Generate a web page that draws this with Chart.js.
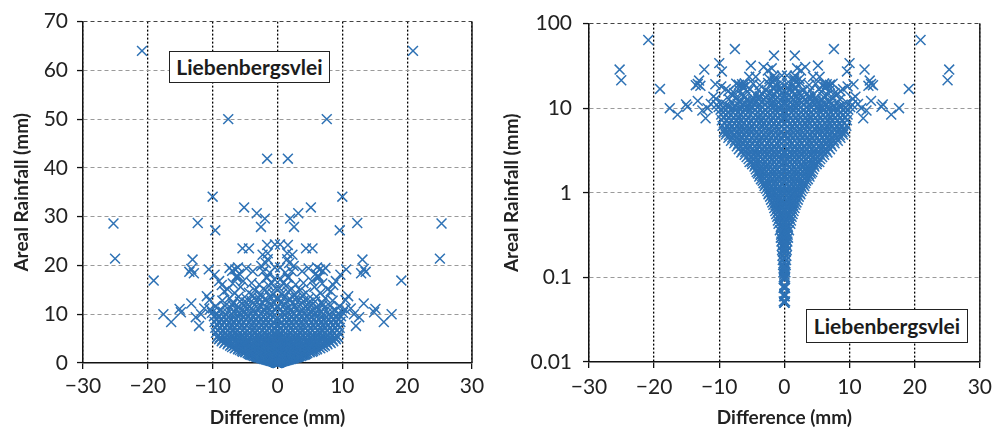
<!DOCTYPE html>
<html>
<head>
<meta charset="utf-8">
<title>Liebenbergsvlei - difference vs areal rainfall</title>
<script src="https://cdn.jsdelivr.net/npm/chart.js@4.4.1/dist/chart.umd.min.js"></script>
<style>
  body { margin: 0; background: #fff; }
  #wrap { position: relative; width: 999px; height: 432px; }
  canvas { position: absolute; top: 0; }
  #linChart { left: 0; }
  #logChart { left: 500px; }
  .tag {
    position: absolute; box-sizing: border-box; border: 1.5px solid #222; background: #fff;
    font-family: Lato, "Open Sans", sans-serif; font-weight: bold; font-size: 21px; color: #1c1c1c;
    text-align: center;
  }
  #tagLeft { left: 169px; top: 51px; width: 161px; height: 32px; line-height: 29px; }
  #tagRight { left: 806px; top: 309px; width: 162px; height: 34px; line-height: 31px; }
</style>
</head>
<body>
<div id="wrap">
  <canvas id="linChart" width="500" height="432"></canvas>
  <canvas id="logChart" width="499" height="432"></canvas>
  <div class="tag" id="tagLeft">Liebenbergsvlei</div>
  <div class="tag" id="tagRight">Liebenbergsvlei</div>
</div>
<script>
const xTicks = [-30, -20, -10, 0, 10, 20, 30];
const linTicks = [0, 10, 20, 30, 40, 50, 60, 70];
const logTicks = [0.01, 0.1, 1, 10, 100];

// Both panels are mirror images about 0 (each pair appears as +d and -d).
const stemPts = [
  [0,0.05],[0.1,0.052],[0.05,0.06],[0,0.064],[0.1,0.075],[0,0.08],[0.05,0.095],[0.1,0.1],
  [0,0.108],[0.15,0.115],[0.05,0.125],[0.1,0.13],[0.2,0.14],[0,0.15],[0.25,0.16],[0.1,0.17],
  [0.3,0.18],[0.05,0.19],[0.2,0.2],[0.35,0.21],[0.1,0.22],[0.4,0.235],[0.25,0.245],[0,0.255],
  [0.45,0.265],[0.3,0.275],[0.15,0.285],[0.55,0.295]
];
const lowPts = [
  [0,0.31],[0.5,0.32],[0.25,0.35],[0.7,0.36],[0.1,0.38],[0.55,0.39],[0.35,0.42],[0.9,0.43],
  [0,0.45],[0.5,0.46],[1.0,0.47],[0.2,0.49],[0.8,0.5],[1.1,0.52],[0.1,0.54],[0.6,0.55],
  [1.25,0.56],[0.4,0.58],[0.95,0.6],[1.4,0.61],[0,0.63],[0.55,0.64],[1.1,0.65],[1.55,0.66],
  [0.3,0.68],[0.85,0.7],[1.35,0.71],[1.7,0.72],[0.1,0.74],[0.65,0.75],[1.2,0.76],[1.85,0.77],
  [0.45,0.8],[0.95,0.81],[1.5,0.82],[2.05,0.83],[0,0.86],[0.6,0.87],[1.15,0.88],[1.7,0.89],
  [2.2,0.9],[0.3,0.92],[0.85,0.93],[1.4,0.94],[1.95,0.95],[2.45,0.96],[0.1,0.98],[0.7,0.99],
  [1.25,0.99],[1.8,1.0],[2.35,1.0]
];
const midPts = [
  [0.2,1.04],[0.85,1.05],[1.45,1.04],[2.0,1.06],[2.6,1.05],
  [0.5,1.11],[1.1,1.12],[1.7,1.1],[2.3,1.13],[2.8,1.12],
  [0,1.19],[0.7,1.18],[1.35,1.2],[2.0,1.19],[2.55,1.21],[3.05,1.2],
  [0.4,1.27],[1.0,1.28],[1.65,1.26],[2.3,1.29],[2.9,1.27],[3.2,1.3],
  [0.1,1.36],[0.8,1.37],[1.45,1.35],[2.1,1.38],[2.7,1.36],[3.35,1.39],
  [0.5,1.45],[1.15,1.47],[1.8,1.44],[2.4,1.46],[3.0,1.48],[3.6,1.45],
  [0.2,1.55],[0.9,1.56],[1.55,1.54],[2.2,1.57],[2.8,1.55],[3.4,1.58],[3.85,1.56],
  [0.6,1.66],[1.25,1.65],[1.9,1.68],[2.5,1.66],[3.15,1.67],[3.75,1.65],[4.05,1.69],
  [0,1.77],[0.7,1.78],[1.4,1.76],[2.05,1.79],[2.7,1.77],[3.3,1.8],[3.9,1.78],[4.25,1.76],
  [0.4,1.89],[1.1,1.9],[1.75,1.88],[2.4,1.91],[3.05,1.89],[3.7,1.92],[4.4,1.9],
  [0.1,2.02],[0.8,2.03],[1.5,2.0],[2.15,2.04],[2.8,2.02],[3.5,2.05],[4.1,2.01],[4.6,2.04],
  [0.5,2.16],[1.2,2.17],[1.9,2.15],[2.6,2.18],[3.25,2.16],[3.9,2.19],[4.5,2.15],[4.95,2.18],
  [0.2,2.31],[0.9,2.32],[1.6,2.3],[2.3,2.33],[3.0,2.31],[3.7,2.34],[4.35,2.3],[5.0,2.33],[5.35,2.31],
  [0.6,2.47],[1.3,2.48],[2.0,2.46],[2.7,2.5],[3.4,2.47],[4.1,2.49],[4.8,2.46],[5.5,2.5],
  [0,2.64],[0.75,2.65],[1.45,2.63],[2.2,2.66],[2.9,2.64],[3.6,2.67],[4.3,2.63],[5.0,2.66],[5.8,2.64],
  [0.4,2.81],[1.1,2.83],[1.8,2.8],[2.5,2.84],[3.3,2.82],[4.0,2.85],[4.7,2.81],[5.4,2.84],[6.1,2.82]
];
const corePts = [
  [0.2,3.02],[0.9,3.05],[1.7,3.0],[2.4,3.07],[3.1,3.03],[3.9,3.06],[4.6,3.01],[5.3,3.08],[6.0,3.04],[6.6,3.0],
  [0.6,3.27],[1.3,3.24],[2.0,3.3],[2.8,3.26],[3.5,3.22],[4.2,3.29],[5.0,3.25],[5.7,3.31],[6.4,3.23],[7.0,3.28],
  [0,3.52],[0.8,3.55],[1.5,3.49],[2.3,3.56],[3.0,3.51],[3.8,3.58],[4.5,3.5],[5.2,3.54],[6.0,3.57],[6.7,3.52],[7.3,3.55],
  [0.4,3.82],[1.1,3.78],[1.9,3.85],[2.6,3.8],[3.4,3.87],[4.1,3.79],[4.9,3.84],[5.6,3.81],[6.3,3.88],[7.1,3.8],[7.7,3.85],
  [0.1,4.12],[0.9,4.08],[1.6,4.15],[2.4,4.1],[3.1,4.17],[3.9,4.09],[4.6,4.14],[5.4,4.11],[6.1,4.18],[6.9,4.1],[7.6,4.15],[8.2,4.12],
  [0.5,4.47],[1.2,4.42],[2.0,4.5],[2.7,4.44],[3.5,4.52],[4.3,4.43],[5.0,4.48],[5.8,4.45],[6.5,4.53],[7.3,4.44],[8.0,4.49],[8.6,4.46],
  [0.2,4.83],[1.0,4.78],[1.7,4.86],[2.5,4.8],[3.2,4.88],[4.0,4.79],[4.7,4.85],[5.5,4.81],[6.3,4.9],[7.0,4.8],[7.8,4.86],[8.5,4.82],[9.0,4.88],
  [0.6,5.22],[1.4,5.17],[2.1,5.26],[2.9,5.2],[3.6,5.28],[4.4,5.18],[5.2,5.24],[5.9,5.21],[6.7,5.3],[7.4,5.19],[8.2,5.25],[8.9,5.22],[9.3,5.29],
  [0,5.63],[0.8,5.58],[1.5,5.67],[2.3,5.6],[3.0,5.7],[3.8,5.59],[4.6,5.65],[5.3,5.61],[6.1,5.72],[6.8,5.6],[7.6,5.66],[8.4,5.62],[9.1,5.69],
  [0.4,6.12],[1.2,6.06],[1.9,6.16],[2.7,6.1],[3.4,6.2],[4.2,6.08],[5.0,6.14],[5.7,6.11],[6.5,6.22],[7.2,6.09],[8.0,6.15],[8.7,6.12],[9.5,6.18],
  [0.1,6.63],[0.9,6.57],[1.6,6.68],[2.4,6.6],[3.2,6.72],[3.9,6.58],[4.7,6.65],[5.4,6.61],[6.2,6.74],[7.0,6.59],[7.7,6.66],[8.5,6.62],[9.2,6.7],
  [0.5,7.13],[1.3,7.06],[2.0,7.18],[2.8,7.1],[3.5,7.22],[4.3,7.08],[5.1,7.15],[5.8,7.11],[6.6,7.24],[7.3,7.09],[8.1,7.16],[8.9,7.12],[9.6,7.2],
  [0.2,7.73],[1.0,7.66],[1.8,7.79],[2.5,7.7],[3.3,7.83],[4.0,7.68],[4.8,7.75],[5.6,7.71],[6.3,7.85],[7.1,7.69],[7.8,7.76],[8.6,7.72],[9.3,7.8],
  [0.6,8.33],[1.4,8.26],[2.1,8.39],[2.9,8.3],[3.7,8.44],[4.4,8.28],[5.2,8.35],[5.9,8.31],[6.7,8.46],[7.5,8.29],[8.2,8.36],[9.0,8.32],[9.7,8.4],
  [0.3,8.93],[1.1,8.86],[1.8,9.0],[2.6,8.9],[3.3,9.05],[4.1,8.88],[4.9,8.95],[5.6,8.91],[6.4,9.07],[7.1,8.89],[7.9,8.96],[8.7,8.92],[9.4,9.0],
  [0.7,9.53],[1.5,9.46],[2.2,9.6],[3.0,9.5],[3.8,9.65],[4.5,9.48],[5.3,9.55],[6.0,9.51],[6.8,9.67],[7.6,9.49],[8.3,9.56],[9.1,9.52],[9.8,9.6]
];
const upperPts = [
  [0.8,10.2],[1.6,10.4],[2.5,10.1],[3.3,10.3],[4.2,10.2],[5.0,10.5],[5.9,10.1],[6.7,10.4],[7.6,10.2],[8.4,10.5],[9.3,10.1],[10.1,10.3],
  [0.4,10.9],[1.2,11.0],[2.1,10.8],[2.9,11.1],[3.8,10.9],[4.6,11.2],[5.5,10.8],[6.3,11.0],[7.2,11.3],[8.9,10.9],[10.4,11.0],
  [0.1,11.6],[1.0,11.8],[1.8,11.5],[2.7,11.7],[3.5,11.9],[4.4,11.6],[5.2,11.8],[6.1,11.5],[7.0,11.9],[8.1,11.7],[9.6,11.6],
  [0.6,12.4],[1.4,12.6],[2.3,12.3],[3.1,12.5],[4.0,12.7],[4.8,12.4],[5.8,12.6],[6.9,12.3],[8.5,12.8],
  [0.2,13.2],[1.1,13.5],[2.0,13.0],[2.9,13.4],[3.8,13.8],[4.7,13.1],[6.0,13.6],[7.4,13.3],
  [0.7,14.2],[1.6,14.6],[2.6,14.1],[3.5,14.9],[4.4,14.4],[6.6,14.3],[8.2,14.7],
  [0.3,15.3],[1.3,15.8],[2.2,15.2],[5.7,15.6],[7.7,15.1],
  [0.9,16.4],[2.8,16.1],[6.9,16.3],[8.6,16.0],
  [0.5,17.2],[1.7,17.6],[6.3,17.8],
  [1.2,18.5],[5.9,18.3],[7.0,18.9],
  [0.4,19.6],[2.5,19.9],[6.5,19.2],
  [1.5,21.3],[2.3,22.2]
];
const outlierPts = [
  [20.9,64.0],[7.6,50.0],[1.6,41.9],[10.0,34.1],[5.15,31.9],[3.2,30.7],[1.95,29.6],[12.3,28.7],
  [25.3,28.6],[9.6,27.2],[2.55,27.9],[25.05,21.4],[19.1,16.9],
  [4.4,23.5],[5.4,23.5],[1.6,24.2],[0.4,24.3],[1.5,22.5],
  [13.1,21.2],[13.3,19.3],[13.6,18.7],[12.9,18.4],[10.6,19.2],[9.7,18.1],[9.0,16.8],[7.4,19.5],
  [6.1,19.6],[4.8,19.4],[3.8,18.8],[6.3,17.5],[5.3,16.8],[4.0,16.4],[2.2,18.8],[1.6,17.5],[1.8,20.5],
  [17.6,10.0],[16.4,8.4],[14.9,10.4],[15.1,11.1],[13.3,12.2],[12.1,7.6],[11.3,11.2],[10.5,12.9],
  [12.6,9.4],[11.8,10.0],[10.9,13.7]
];

const markerBlue = "#2e72b5";

function mirrored(list) {
  let out = [];
  for (let i = 0; i < list.length; i++) {
    out.push({ x: list[i][0], y: list[i][1] });
    out.push({ x: -list[i][0], y: list[i][1] });
  }
  return out;
}

let allPts = mirrored(stemPts.concat(lowPts, midPts, corePts, upperPts, outlierPts));

function minusSign(v) {
  return v < 0 ? "\u2212" + Math.abs(v) : String(v);
}

// solid right-hand frame line
const rightFrame = {
  id: "rightFrame",
  afterDraw(chart) {
    const a = chart.chartArea;
    const c = chart.ctx;
    c.save();
    c.strokeStyle = "#222";
    c.lineWidth = 1.5;
    c.beginPath();
    c.moveTo(a.right, a.top);
    c.lineTo(a.right, a.bottom);
    c.stroke();
    c.restore();
  }
};

function makeChart(canvasId, opts) {
  const tickFont = { family: "Lato", size: 21 };
  const titleFont = { family: "Lato", size: 19, weight: "bold" };
  return new Chart(document.getElementById(canvasId), {
    type: "scatter",
    data: {
      datasets: [{
        data: allPts,
        pointStyle: "crossRot",
        pointRadius: 7,
        borderWidth: 1.5,
        borderColor: markerBlue,
        backgroundColor: markerBlue,
        clip: false
      }]
    },
    options: {
      responsive: false,
      animation: false,
      events: [],
      layout: { padding: opts.padding },
      plugins: { legend: { display: false }, tooltip: { enabled: false } },
      scales: {
        x: {
          type: "linear",
          min: -30, max: 30,
          afterBuildTicks: s => { s.ticks = xTicks.map(v => ({ value: v })); },
          afterFit: s => { s.height = opts.xHeight; },
          ticks: { color: "#222", font: tickFont, padding: opts.xPad, maxRotation: 0, callback: v => minusSign(v) },
          grid: { color: "#000", lineWidth: 1.3, tickLength: 6, tickColor: "#111", tickWidth: 1.3 },
          border: { color: "#111", width: 1.5, dash: [2, 2] },
          title: { display: true, text: "Difference (mm)", color: "#222", font: titleFont, padding: { top: 0, bottom: 3 } }
        },
        y: {
          type: opts.yType,
          min: opts.yMin, max: opts.yMax,
          afterBuildTicks: s => { s.ticks = opts.yTicks.map(v => ({ value: v })); },
          afterFit: s => { s.width = opts.yWidth; },
          ticks: { color: "#222", font: tickFont, padding: opts.yPad, callback: v => String(v) },
          grid: {
            color: ctx => (ctx.tick && ctx.tick.value === opts.yMax) ? "#444" : "#9a9a9a",
            lineWidth: 1.1, tickLength: 6, tickColor: "#111", tickWidth: 1.3
          },
          border: { color: "#111", width: 1.5, dash: [4, 3] },
          title: { display: true, text: "Areal Rainfall (mm)", color: "#222", font: titleFont, padding: { top: opts.yTitlePad, bottom: 0 } }
        }
      }
    },
    plugins: [rightFrame]
  });
}

makeChart("linChart", {
  padding: { left: 0, right: 28, top: 17, bottom: 0 },
  yType: "linear", yMin: 0, yMax: 70, yTicks: linTicks,
  yWidth: 83, xHeight: 69, xPad: 5, yPad: 9, yTitlePad: 10
});

makeChart("logChart", {
  padding: { left: 0, right: 18, top: 13, bottom: 0 },
  yType: "logarithmic", yMin: 0.01, yMax: 100, yTicks: logTicks,
  yWidth: 89, xHeight: 70, xPad: 7, yPad: 11, yTitlePad: 0
});
</script>
</body>
</html>
